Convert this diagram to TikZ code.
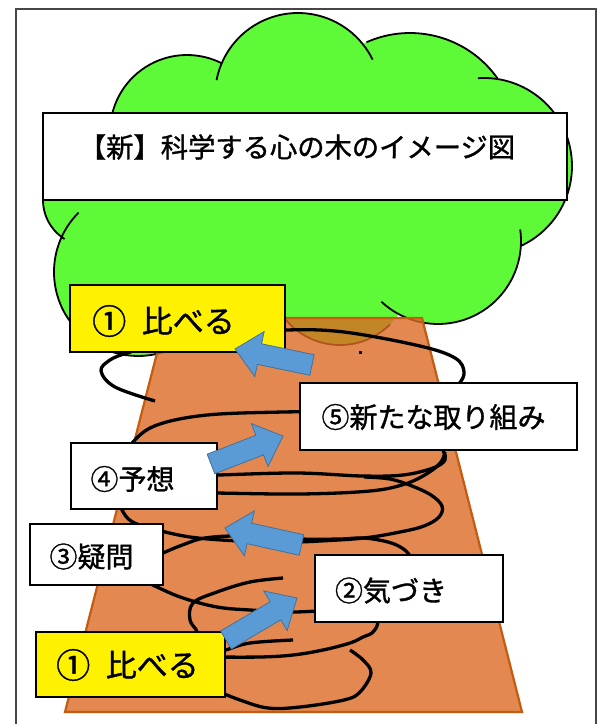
\documentclass[tikz,border=0pt]{standalone}
\usepackage{fontspec}
\usepackage{graphicx}
\newfontfamily\jp[FakeBold=1.2]{Noto Sans CJK JP}
\usetikzlibrary{calc}

\definecolor{leaf}{RGB}{95,250,55}
\definecolor{bark}{RGB}{219,106,36}
\definecolor{barkedge}{RGB}{197,90,17}
\definecolor{arrowblue}{RGB}{91,155,213}
\definecolor{arrowedge}{RGB}{65,113,156}
\definecolor{framegray}{RGB}{70,70,70}

% enlarged circled one for the yellow labels
\newcommand{\circone}{\raisebox{-0.04em}{\scalebox{1.1}{①}}}

% block arrow: #1 name, #2 tail centre, #3 tip
\newcommand{\blockarrow}[3]{%
  \coordinate (#1-neck) at ($(#3)!25pt!(#2)$);
  \filldraw[blockarrow]
    ($(#2)!10.5pt!90:(#3)$) -- ($(#1-neck)!10.5pt!90:(#3)$) --
    ($(#1-neck)!23pt!90:(#3)$) -- (#3) --
    ($(#1-neck)!23pt!-90:(#3)$) -- ($(#1-neck)!10.5pt!-90:(#3)$) --
    ($(#2)!10.5pt!-90:(#3)$) -- cycle;
}

\begin{document}
\begin{tikzpicture}[x=1pt,y=-1pt,
  leafline/.style={line width=1.8pt, black},
  coil/.style={line width=3.3pt, black, line cap=butt},
  whitebox/.style={draw=black, line width=1.5pt, fill=white, inner sep=0pt},
  yellowbox/.style={draw=black, line width=1.5pt, fill=yellow, inner sep=0pt},
  lab/.style={inner sep=0pt, font=\jp\fontsize{28}{32}\selectfont},
  ylab/.style={inner sep=0pt, font=\jp\fontsize{31}{34}\selectfont},
  blockarrow/.style={fill=arrowblue, draw=arrowedge, line width=0.8pt, line join=miter},
]
\useasboundingbox (0,0) rectangle (598,724);

% outer frame
\draw[framegray, line width=1.4pt] (16,730) -- (16,9) -- (596,9) -- (596,730);

% tree crown: filled bumps
\fill[leaf] (187,132) circle[radius=77];
\fill[leaf] (298,96) circle[radius=83];
\fill[leaf] (410,140) circle[radius=107];
\fill[leaf] (484,166) circle[radius=88];
\fill[leaf] (438,241) circle[radius=83];
\fill[leaf] (340,274) circle[radius=71];
\fill[leaf] (138,272) circle[radius=84];
\fill[leaf] (89,200) circle[radius=46];
\fill[leaf] (110,132) -- (187,132) -- (298,96) -- (410,140) -- (484,166) -- (438,241)
  -- (340,274) -- (300,310) -- (200,315) -- (138,272) -- (89,200) -- cycle;

% crown outline, one arc per bump
\draw[leafline] (187,132) ++(185:77) arc[start angle=185, end angle=297, radius=77];
\draw[leafline] (298,96) ++(191:83) arc[start angle=191, end angle=334, radius=83];
\draw[leafline] (410,140) ++(246:107) arc[start angle=246, end angle=325, radius=107];
\draw[leafline] (484,166) ++(266:88) arc[start angle=266, end angle=425, radius=88];
\draw[leafline] (438,241) ++(-8:83) arc[start angle=-8, end angle=133, radius=83];
\draw[leafline] (138,272) ++(225:84) arc[start angle=225, end angle=70, radius=84];
\draw[leafline] (89,200) ++(185:46) arc[start angle=185, end angle=122, radius=46];
\draw[leafline] (340,274) ++(45:71) arc[start angle=45, end angle=140, radius=71];

% title banner
\node[whitebox, minimum width=524pt, minimum height=87pt] (title) at (305,156.5) {};
\node[inner sep=0pt, font=\jp\fontsize{27.3}{30}\selectfont] (titletext) at (297,147)
  {【新】科学する心の木のイメージ図};

% trunk
\filldraw[fill=bark, fill opacity=0.8, draw=barkedge, line width=2.2pt]
  (166,318) -- (422,318) -- (522,712) -- (65,712) -- cycle;
\fill (358.5,350.5) rectangle (361.5,353.5);

% coil around the trunk (ends tucked under the label boxes)
% top turn
\draw[coil] plot[smooth, tension=0.6] coordinates {(440,400) (458,385) (464,372) (455,358)
  (420,346) (344,332) (287,330) (240,335) (150,348) (127,353) (110,360) (101,371) (115,387) (155,401)};
\draw[coil] plot[smooth, tension=0.6] coordinates {(120,465) (133,442) (157,425) (207,415) (283,412) (330,412)};
% upper ring below the fifth label
\draw[coil] plot[smooth, tension=0.6] coordinates {(435,430) (443,450) (445,460) (433,468) (403,475)
  (362,476) (297,473) (218,475) (180,476)};
\draw[coil] plot[smooth, tension=0.6] coordinates {(180,493) (214,493) (300,494) (370,491) (405,484)
  (428,473) (441,462) (445,452)};
% lower ring beside the third label
\draw[coil] plot[smooth, tension=0.6] coordinates {(364,477) (390,479) (412,486) (431,495) (442,506)
  (439,517) (424,526) (400,532) (364,538) (320,541) (290,542) (240,541) (190,537) (150,528)
  (131,521) (122,510) (118,498)};
\draw[coil] plot[smooth, tension=0.6] coordinates {(150,560) (163,553) (185,544) (205,538) (240,536)
  (300,539) (340,539) (364,538) (388,542) (402,548) (410,556) (416,570)};
% ring between the third and second labels
\draw[coil] plot[smooth, tension=0.6] coordinates {(190,640) (197,632) (190,620) (193,603) (217,592) (250,582) (283,578)};
\draw[coil] plot[smooth, tension=0.6] coordinates {(140,578) (157,587) (183,598) (217,607) (250,610) (293,612) (330,610)};
% bottom turns
\draw[coil] plot[smooth, tension=0.6] coordinates {(360,600) (377,620) (373,632) (363,637) (350,643)
  (323,650) (293,655) (260,657) (210,657)};
\draw[coil] plot[smooth, tension=0.6] coordinates {(210,655) (226,650) (250,643) (293,640)};
\draw[coil] plot[smooth, tension=0.6] coordinates {(350,650) (363,660) (371,673) (360,692) (344,700)
  (300,707) (268,708) (240,700) (215,690)};

% labels
\node[yellowbox, minimum width=215pt, minimum height=67pt] (cmpTop) at (177.5,318.5) {};
\node[ylab] at (163.5,321) {\circone\hspace{0.5em}比べる};
\node[whitebox, minimum width=277pt, minimum height=67pt] (newTry) at (438.5,416.5) {};
\node[lab] at (433.5,417) {⑤新たな取り組み};
\node[whitebox, minimum width=146pt, minimum height=66pt] (guess) at (143.9,476) {};
\node[lab] at (132.5,479) {④予想};
\node[whitebox, minimum width=133pt, minimum height=61pt] (doubt) at (96.5,554.5) {};
\node[lab] at (91.5,556.5) {③疑問};
\node[whitebox, minimum width=188pt, minimum height=67pt] (notice) at (409,588.5) {};
\node[lab] at (391,590.5) {②気づき};
\node[yellowbox, minimum width=189pt, minimum height=65pt] (cmpBot) at (130.5,664.5) {};
\node[ylab] at (127.5,665) {\circone\hspace{0.5em}比べる};

% arrows between the stages
\coordinate (a1t) at (312,365); \coordinate (a1h) at (235,349);
\coordinate (a2t) at (211,464); \coordinate (a2h) at (283,436);
\coordinate (a3t) at (301.5,545); \coordinate (a3h) at (225,528);
\coordinate (a4t) at (226,640); \coordinate (a4h) at (297,598);
\blockarrow{a1}{a1t}{a1h}
\blockarrow{a2}{a2t}{a2h}
\blockarrow{a3}{a3t}{a3h}
\blockarrow{a4}{a4t}{a4h}
\end{tikzpicture}
\end{document}
